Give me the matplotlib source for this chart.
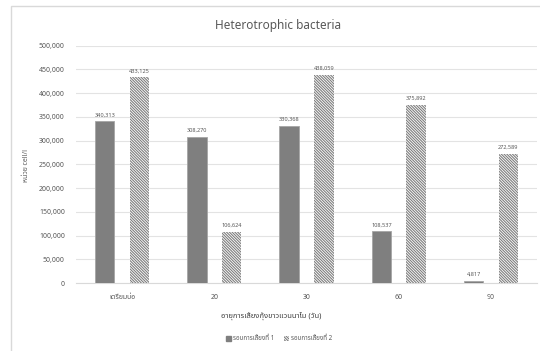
import matplotlib
matplotlib.use("Agg")
import matplotlib.pyplot as plt
import matplotlib.patches as mpatches
import numpy as np

plt.rcParams['font.family'] = ['Noto Sans', 'Noto Sans Thai']
plt.rcParams['hatch.linewidth'] = 0.8

categories = ["เตรียมบ่อ", "20", "30", "60", "90"]
round1 = [340313, 308270, 330368, 108537, 4817]
round2 = [433125, 106624, 438059, 375892, 272589]
series_names = ["รอบการเลี้ยงที่ 1", "รอบการเลี้ยงที่ 2"]
yticks = [0, 50000, 100000, 150000, 200000, 250000, 300000, 350000, 400000, 450000, 500000]

W, H = 540, 351
fig = plt.figure(figsize=(W / 100, H / 100), dpi=100)

# outer chart frame
fig.add_artist(mpatches.Rectangle((11 / W, -0.1), 1.2, 1 - 6 / H + 0.1,
                                  transform=fig.transFigure, fill=False,
                                  edgecolor="#d9d9d9", linewidth=1.0))

ax = fig.add_axes([76 / W, 1 - 283 / H, (537 - 76) / W, (283 - 45.7) / H])

x = np.arange(len(categories))
bw = 0.21
off = 0.188
dark = "#7f7f7f"
txt = "#595959"
hatch = "\\" * 12

b1 = ax.bar(x - off, round1, bw, color=dark, edgecolor="#a6a6a6", linewidth=0.6, zorder=3)
b2 = ax.bar(x + off, round2, bw, color="white", edgecolor="#7f7f7f", hatch=hatch,
            linewidth=0, zorder=3)

for bars, vals in ((b1, round1), (b2, round2)):
    for r, v in zip(bars, vals):
        ax.annotate(f"{v:,}", (r.get_x() + r.get_width() / 2, v),
                    xytext=(0, 3), textcoords="offset points",
                    ha="center", va="bottom", fontsize=4, color=txt)

ax.set_xlim(-0.5, len(categories) - 0.5)
ax.set_ylim(0, 500000)
ax.set_yticks(yticks)
ax.set_yticklabels([f"{t:,}" for t in yticks])
ax.set_xticks(x)
ax.set_xticklabels(categories)
ax.tick_params(axis="both", length=0, labelsize=5, labelcolor=txt)
ax.tick_params(axis="y", pad=8)
ax.tick_params(axis="x", pad=8)
ax.grid(axis="y", color="#e3e3e3", linewidth=0.8, zorder=0)
for s in ("top", "right", "left"):
    ax.spines[s].set_visible(False)
ax.spines["bottom"].set_color("#d9d9d9")
ax.spines["bottom"].set_linewidth(0.8)

fig.text(278 / W, 1 - 25 / H, "Heterotrophic bacteria", ha="center", va="center",
         fontsize=8.5, color=txt)
fig.text(26 / W, 1 - 165 / H, "หน่วย cell/l", rotation=90, ha="center", va="center",
         fontsize=5, color=txt)
fig.text(271 / W, 1 - 316 / H, "อายุการเลี้ยงกุ้งขาวแวนนาไม (วัน)", ha="center",
         va="center", fontsize=5.5, color="#404040", fontweight="bold")

handles = [mpatches.Patch(facecolor=dark, edgecolor=dark),
           mpatches.Patch(facecolor="white", edgecolor="#7f7f7f", hatch=hatch, linewidth=0)]
fig.legend(handles, series_names, loc="center", bbox_to_anchor=(279 / W, 1 - 339 / H),
           ncol=2, frameon=False, fontsize=4.5, handlelength=0.8, handleheight=0.8,
           handletextpad=0.4, columnspacing=1.5, labelcolor=txt)

fig.savefig("out.png", dpi=100)
